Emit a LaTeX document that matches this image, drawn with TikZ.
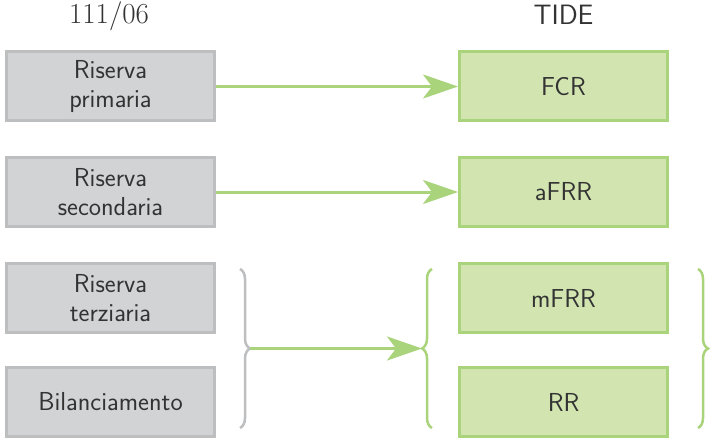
\documentclass[tikz,border=0pt]{standalone}
\usetikzlibrary{arrows.meta,decorations.pathreplacing}
\definecolor{boxgray}{HTML}{D2D3D5}
\definecolor{linegray}{HTML}{BDBEC0}
\definecolor{boxgreen}{HTML}{D2E5B1}
\definecolor{linegreen}{HTML}{A9D47C}
\definecolor{textdark}{HTML}{333333}
\tikzset{
  oldbox/.style={draw=linegray, fill=boxgray, line width=3pt, minimum width=208pt,
    minimum height=69pt, inner sep=0pt, align=center, text=textdark,
    font=\sffamily\fontsize{26}{29}\selectfont},
  newbox/.style={oldbox, draw=linegreen, fill=boxgreen},
  heading/.style={text=textdark, anchor=base},
  maparrow/.style={draw=linegreen, line width=3pt,
    -{Stealth[length=35pt, width=24pt, inset=9pt, fill=linegreen]}},
  bracegray/.style={draw=linegray, line width=2.5pt, decorate,
    decoration={brace, amplitude=10pt}},
  bracegreen/.style={bracegray, draw=linegreen},
}
\begin{document}
\begin{tikzpicture}[x=1pt, y=-1pt]
  \useasboundingbox (0,0) rectangle (712,441);

  % column headings
  \node[heading, font=\rmfamily\fontsize{29}{32}\selectfont] (hleft) at (109,24) {111/06};
  \node[heading, font=\sffamily\fontsize{28}{32}\selectfont] (hright) at (563.5,25) {TIDE};

  % reserve categories (left) and products (right)
  \node[oldbox] (prim) at (110.5,86.5) {Riserva\\primaria};
  \node[oldbox] (sec)  at (110.5,192)  {Riserva\\secondaria};
  \node[oldbox] (terz) at (110.5,298)  {Riserva\\terziaria};
  \node[oldbox] (bil)  at (110.5,402)  {Bilanciamento};

  \node[newbox] (fcr)  at (563.5,86.5) {FCR};
  \node[newbox] (afrr) at (563.5,192)  {aFRR};
  \node[newbox] (mfrr) at (563.5,298)  {mFRR};
  \node[newbox] (rr)   at (563.5,402)  {RR};

  % one-to-one mappings
  \draw[maparrow] (prim.east) -- (fcr.west);
  \draw[maparrow] (sec.east) -- (afrr.west);

  % grouped mapping
  \coordinate (gtop) at (240,269);
  \coordinate (gbot) at (240,428);
  \coordinate (gtip) at (250,348.5);
  \coordinate (ntop) at (432,269);
  \coordinate (nbot) at (432,428);
  \coordinate (ntip) at (422,348.5);
  \coordinate (rtop) at (698,269);
  \coordinate (rbot) at (698,428);

  \draw[bracegray] (gtop) -- (gbot);
  \draw[bracegreen] (nbot) -- (ntop);
  \draw[bracegreen] (rtop) -- (rbot);
  \draw[maparrow] (gtip) -- (ntip);
\end{tikzpicture}
\end{document}
